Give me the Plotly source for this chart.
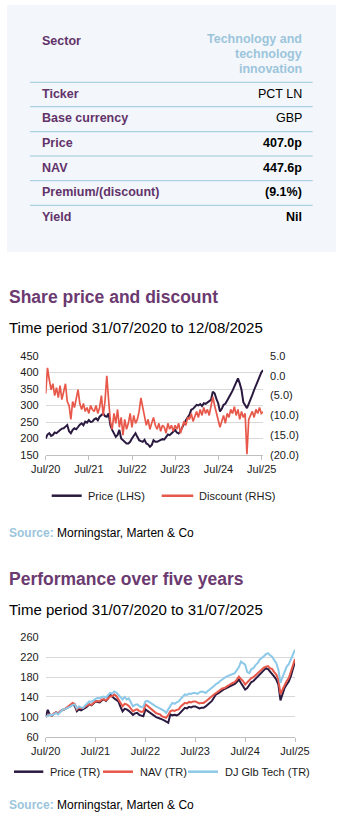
import pandas as pd
import plotly.graph_objects as go

W, H = 338, 817
FONT = "Liberation Sans, Arial, sans-serif"
DARK = "#2B1A40"
RED = "#E8584A"
BLUE = "#8CC9E9"
PURPLE = "#6B3A70"
LABEL = "#62326A"
LIGHTBLUE = "#9CC5DB"
GRID = "#D9D9D9"
AXIS = "#BFBFBF"

# ---------------- table ----------------
table_labels = ["Ticker", "Base currency", "Price", "NAV", "Premium/(discount)", "Yield"]
table_values = ["PCT LN", "GBP", "407.0p", "447.6p", "(9.1%)", "Nil"]
sector_lines = ["Technology and", "technology", "innovation"]

# ---------------- chart 1: share price and discount ----------------
chart1_start, chart1_end = "2020-07-31", "2025-08-12"
share_price = [200, 212, 216, 208, 211, 218, 216, 222, 226, 230,
               231, 236, 241, 222, 216, 226, 231, 228, 236, 242,
               246, 240, 251, 248, 256, 250, 251, 258, 261, 255,
               266, 270, 276, 268, 266, 276, 240, 226, 216, 205,
               211, 226, 200, 195, 190, 185, 185, 190, 200, 208,
               216, 205, 195, 192, 190, 196, 185, 182, 175, 180,
               195, 190, 190, 193, 195, 198, 197, 205, 212, 210,
               216, 220, 226, 218, 215, 222, 235, 245, 255, 262,
               272, 287, 290, 296, 302, 300, 304, 298, 307, 305,
               310, 312, 317, 342, 337, 320, 307, 282, 290, 302,
               305, 315, 327, 335, 345, 357, 370, 382, 367, 347,
               310, 302, 292, 305, 317, 332, 347, 360, 372, 390,
               400, 407]
discount = [-4.5, 2.0, -1.0, -3.5, -2.0, -5.0, -3.0, -5.5, -2.5, -6.0,
            -4.0, -2.0, -6.5, -7.5, -11.0, -6.5, -8.0, -5.5, -3.5, -7.0,
            -8.5, -7.0, -9.0, -8.0, -9.5, -7.5, -8.5, -9.0, -7.5, -9.5,
            -8.0, -5.0, -10.0, -6.5, 0.0, -6.0, -11.5, -13.5, -9.5, -12.0,
            -8.5, -13.0, -10.5, -15.0, -11.0, -13.5, -12.0, -9.5, -13.0, -10.0,
            -12.0, -11.0, -9.0, -5.6, -8.0, -10.5, -12.5, -11.0, -13.5, -12.0,
            -10.5, -12.5, -13.5, -12.0, -14.0, -12.5, -13.0, -14.5, -12.0, -13.5,
            -12.5, -14.0, -12.5, -13.5, -12.0, -14.5, -13.0, -11.5, -12.5, -10.5,
            -11.0, -9.5, -11.5, -10.0, -9.0, -10.5, -8.5, -10.0, -8.0, -9.5,
            -8.5, -10.0, -8.0, -5.3, -7.5, -9.5, -11.0, -13.0, -11.5, -10.0,
            -12.0, -9.5, -10.5, -8.5, -9.5, -7.8, -10.0, -8.5, -11.0, -9.0,
            -10.5, -9.5, -19.8, -11.0, -10.0, -9.0, -10.5, -8.5, -9.5, -8.0,
            -9.5, -9.1]
c1_left_ticks = [150, 200, 250, 300, 350, 400, 450]
c1_right_ticks = [-20, -15, -10, -5, 0, 5]
c1_right_text = ["(20.0)", "(15.0)", "(10.0)", "(5.0)", "0.0", "5.0"]

# ---------------- chart 2: performance over five years ----------------
chart2_start, chart2_end = "2020-07-31", "2025-07-31"
price_tr = [100, 114, 104, 102, 106, 109, 107, 110, 114, 115,
            117, 120, 122, 125, 122, 111, 115, 113, 115, 118,
            121, 125, 123, 128, 131, 130, 129, 133, 135, 132,
            137, 145, 140, 137, 134, 131, 120, 111, 116, 115,
            112, 107, 104, 107, 108, 104, 102, 101, 115, 112,
            108, 105, 102, 100, 98, 97, 95, 93, 91, 88,
            105, 103, 104, 103, 105, 110, 113, 118, 117, 120,
            119, 121, 121, 119, 117, 118, 118, 121, 125, 128,
            132, 139, 145, 147, 150, 154, 156, 158, 160, 163,
            165, 166, 170, 175, 168, 160, 155, 158, 165, 170,
            172, 176, 181, 186, 190, 194, 198, 196, 191, 188,
            181, 175, 165, 133, 148, 158, 165, 171, 182, 196,
            211]
nav_tr = [100, 103, 105, 102, 107, 109, 106, 111, 114, 115,
          118, 121, 124, 128, 126, 115, 119, 117, 118, 121,
          123, 125, 124, 128, 131, 132, 131, 135, 135, 133,
          138, 141, 142, 145, 142, 135, 129, 121, 126, 125,
          122, 116, 111, 114, 115, 112, 110, 111, 125, 122,
          118, 114, 111, 108, 106, 105, 101, 100, 98, 104,
          111, 113, 112, 114, 115, 121, 124, 128, 127, 130,
          129, 131, 131, 129, 127, 128, 128, 131, 135, 139,
          142, 145, 148, 151, 154, 157, 158, 161, 163, 166,
          168, 170, 175, 181, 176, 172, 165, 170, 175, 178,
          180, 184, 188, 193, 197, 199, 201, 202, 198, 196,
          190, 185, 175, 145, 155, 165, 172, 178, 190, 204,
          216]
bench_tr = [100, 102, 104, 103, 106, 108, 105, 110, 114, 115,
            117, 118, 121, 124, 125, 117, 121, 119, 118, 123,
            127, 131, 130, 134, 136, 138, 137, 140, 141, 139,
            144, 148, 147, 151, 149, 145, 141, 135, 140, 135,
            137, 130, 121, 124, 125, 122, 119, 121, 131, 132,
            129, 127, 124, 121, 119, 117, 115, 112, 108, 116,
            122, 128, 126, 129, 131, 136, 140, 145, 144, 147,
            146, 148, 148, 146, 149, 151, 150, 148, 152, 155,
            158, 162, 166, 168, 172, 176, 178, 181, 183, 185,
            186, 188, 194, 200, 211, 208, 205, 190, 188, 196,
            198, 204, 208, 215, 218, 222, 226, 228, 224, 221,
            214, 208, 195, 168, 180, 192, 201, 206, 215, 225,
            235]
c2_ticks = [60, 100, 140, 180, 220, 260]

year_ticks = ["2020-07-31", "2021-07-31", "2022-07-31", "2023-07-31", "2024-07-31", "2025-07-31"]
year_text = ["Jul/20", "Jul/21", "Jul/22", "Jul/23", "Jul/24", "Jul/25"]

d1 = pd.date_range(chart1_start, chart1_end, periods=len(share_price))
d2 = pd.date_range(chart2_start, chart2_end, periods=len(price_tr))


def X(px):
    return px / W


def Y(py):
    return 1 - py / H


C1_DOM = [Y(455), Y(356)]
C2_DOM = [Y(736.7), Y(637.3)]

fig = go.Figure()
fig.add_trace(go.Scatter(x=d1, y=share_price, mode="lines", xaxis="x", yaxis="y",
                         line=dict(color=DARK, width=2), showlegend=False, hoverinfo="skip"))
fig.add_trace(go.Scatter(x=d1, y=discount, mode="lines", xaxis="x", yaxis="y2",
                         line=dict(color=RED, width=1.7), showlegend=False, hoverinfo="skip"))
fig.add_trace(go.Scatter(x=d2, y=price_tr, mode="lines", xaxis="x2", yaxis="y3",
                         line=dict(color=DARK, width=2), showlegend=False, hoverinfo="skip"))
fig.add_trace(go.Scatter(x=d2, y=nav_tr, mode="lines", xaxis="x2", yaxis="y3",
                         line=dict(color=RED, width=2), showlegend=False, hoverinfo="skip"))
fig.add_trace(go.Scatter(x=d2, y=bench_tr, mode="lines", xaxis="x2", yaxis="y3",
                         line=dict(color=BLUE, width=2), showlegend=False, hoverinfo="skip"))

tickfont = dict(family=FONT, size=11, color="#1A1A1A")
xcommon = dict(type="date", tickvals=year_ticks, ticktext=year_text, showgrid=False,
               showline=True, linecolor=AXIS, linewidth=1, ticks="outside", ticklen=4,
               tickcolor=AXIS, tickfont=tickfont, zeroline=False, fixedrange=True,
               automargin=False)
ycommon = dict(zeroline=False, ticks="", tickfont=tickfont, ticklabelstandoff=6,
               fixedrange=True, automargin=False)

fig.update_layout(
    width=W, height=H, margin=dict(l=0, r=0, t=0, b=0, pad=0, autoexpand=False),
    showlegend=False,
    paper_bgcolor="white", plot_bgcolor="rgba(0,0,0,0)",
    font=dict(family=FONT, color="#000"),
    xaxis=dict(domain=[X(45.7), X(263.1)], anchor="y", range=[chart1_start, chart1_end], **xcommon),
    yaxis=dict(domain=C1_DOM, anchor="x", range=[150, 450], tickvals=c1_left_ticks,
               showgrid=True, gridcolor=GRID, gridwidth=1, **ycommon),
    yaxis2=dict(domain=C1_DOM, side="right", anchor="x", range=[-20, 5], tickvals=c1_right_ticks,
                ticktext=c1_right_text, showgrid=False, **ycommon),
    xaxis2=dict(domain=[X(45.7), X(295)], anchor="y3", range=[chart2_start, chart2_end], **xcommon),
    yaxis3=dict(domain=C2_DOM, anchor="x2", range=[60, 260], tickvals=c2_ticks,
                showgrid=True, gridcolor=GRID, gridwidth=1, **ycommon),
)

shapes = []
# table background
shapes.append(dict(type="rect", xref="paper", yref="paper", x0=X(7), x1=X(336), y0=Y(252), y1=Y(5),
                   fillcolor="#F3F7FB", line=dict(width=0), layer="below"))
for ly in [82.3, 106.7, 131.7, 156, 180.7, 205.3]:
    shapes.append(dict(type="line", xref="paper", yref="paper", x0=X(30), x1=X(312.7), y0=Y(ly), y1=Y(ly),
                       line=dict(color="#9CC8DC", width=1)))
# legend samples
for (x0, x1, yy, col) in [(51.7, 81.7, 495.7, DARK), (161.7, 193.3, 495.7, RED),
                          (14, 43.3, 771.7, DARK), (103, 133, 771.7, RED), (188, 218, 771.7, BLUE)]:
    shapes.append(dict(type="line", xref="paper", yref="paper", x0=X(x0), x1=X(x1), y0=Y(yy), y1=Y(yy),
                       line=dict(color=col, width=2.5)))
fig.update_layout(shapes=shapes)

ann = []


def add_text(text, px, py, size, color="#000", xanchor="left", bold=False):
    t = f"<b>{text}</b>" if bold else text
    ann.append(dict(text=t, x=X(px), y=Y(py), xref="paper", yref="paper", xanchor=xanchor,
                    yanchor="middle", showarrow=False, font=dict(family=FONT, size=size, color=color)))


# table
add_text("Sector", 39.5, 40.7, 12.5, LABEL, bold=True)
for txt, yy in zip(sector_lines, [39.3, 54.3, 69.3]):
    add_text(txt, 304, yy, 12.5, LIGHTBLUE, xanchor="right", bold=True)
row_y = [94.3, 118.3, 143.3, 168.3, 192.3, 217.3]
for lab, val, yy, b in zip(table_labels, table_values, row_y, [False, False, True, True, True, True]):
    add_text(lab, 39.5, yy, 12.5, LABEL, bold=True)
    add_text(val, 304, yy, 12.5, "#000", xanchor="right", bold=b)

# chart 1 titles
add_text("Share price and discount", 6.5, 296.7, 17.5, PURPLE, bold=True)
add_text("Time period 31/07/2020 to 12/08/2025", 6.5, 327.3, 15, "#000")
add_text("Price (LHS)", 86, 495.7, 11, "#1A1A1A")
add_text("Discount (RHS)", 196.7, 495.7, 11, "#1A1A1A")
add_text(f"<b><span style='color:{LIGHTBLUE}'>Source:</span></b> Morningstar, Marten &amp; Co", 7, 533.3, 12, "#000")

# chart 2 titles
add_text("Performance over five years", 6.5, 579.3, 17.5, PURPLE, bold=True)
add_text("Time period 31/07/2020 to 31/07/2025", 6.5, 609, 15, "#000")
add_text("Price (TR)", 48.3, 771.7, 11, "#1A1A1A")
add_text("NAV (TR)", 137.7, 771.7, 11, "#1A1A1A")
add_text("DJ Glb Tech (TR)", 222.7, 771.7, 11, "#1A1A1A")
add_text(f"<b><span style='color:{LIGHTBLUE}'>Source:</span></b> Morningstar, Marten &amp; Co", 7, 805, 12, "#000")

fig.update_layout(annotations=ann)
fig.write_html("out.html", config={"displayModeBar": False, "staticPlot": True})
